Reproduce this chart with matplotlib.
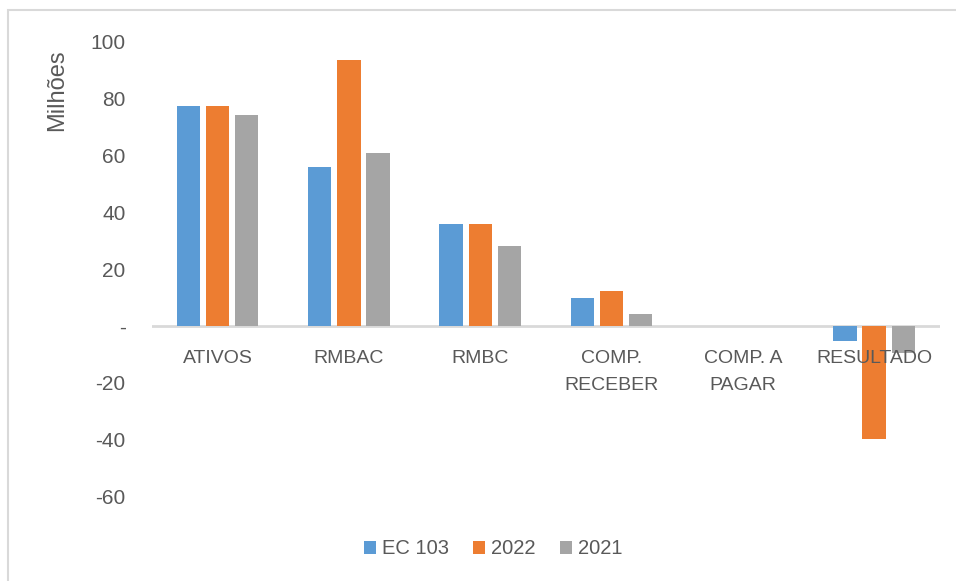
import numpy as np
import matplotlib.pyplot as plt
from matplotlib.patches import Rectangle

plt.rcParams['font.family'] = ['Liberation Sans', 'DejaVu Sans']

# Values in millions
categories = ['ATIVOS', 'RMBAC', 'RMBC', 'COMP.\nRECEBER', 'COMP. A\nPAGAR', 'RESULTADO']
series_names = ['EC 103', '2022', '2021']
ec103 = [77.5, 55.8, 36.0, 9.8, 0.0, -5.1]
y2022 = [77.5, 93.4, 36.0, 12.5, 0.0, -39.7]
y2021 = [74.4, 60.8, 28.3, 4.3, 0.0, -9.5]
colors = ['#5B9BD5', '#ED7D31', '#A5A5A5']
y_ticks = [-60, -40, -20, 0, 20, 40, 60, 80, 100]
y_tick_labels = ['-60', '-40', '-20', '-', '20', '40', '60', '80', '100']

text_color = '#595959'

fig = plt.figure(figsize=(9.56, 5.81), dpi=100)
ax = fig.add_axes([0.159, 0.1451, 0.824, 0.7831])

x = np.arange(len(categories))
step = 0.222
width = 0.178
for k, (vals, name) in enumerate(zip([ec103, y2022, y2021], series_names)):
    ax.bar(x + (k - 1) * step, vals, width, color=colors[k], label=name,
           linewidth=0, zorder=2)

ax.set_xlim(-0.5, len(categories) - 0.5)
ax.set_ylim(-60, 100)
ax.axhline(0, color='#D9D9D9', linewidth=2, zorder=1)

for s in ax.spines.values():
    s.set_visible(False)
ax.set_xticks([])
ax.set_yticks(y_ticks)
ax.set_yticklabels(y_tick_labels)
ax.tick_params(axis='y', length=0, pad=19, labelsize=15, labelcolor=text_color)

# category labels sit just under the zero line
for i, lab in enumerate(categories):
    ax.annotate(lab, xy=(i, 0), xytext=(0, -17), textcoords='offset points',
                ha='center', va='top', fontsize=14, color=text_color,
                linespacing=1.8, zorder=3)

fig.text(56.7 / 956, 1 - 90 / 581, 'Milhões', rotation=90, ha='center', va='center',
         fontsize=17, color=text_color)

fig.legend(loc='center', bbox_to_anchor=(493 / 956, 1 - 549 / 581), ncol=3,
           frameon=False, fontsize=14.5, labelcolor=text_color,
           handlelength=0.6, handleheight=0.6, handletextpad=0.3,
           columnspacing=1.2)

# chart frame
fig.patches.append(Rectangle((7.5 / 956, -0.1), 1.2, 1 - 9.5 / 581 + 0.1,
                             transform=fig.transFigure, fill=False,
                             edgecolor='#D9D9D9', linewidth=1.5))

fig.savefig('out.png', dpi=100)
